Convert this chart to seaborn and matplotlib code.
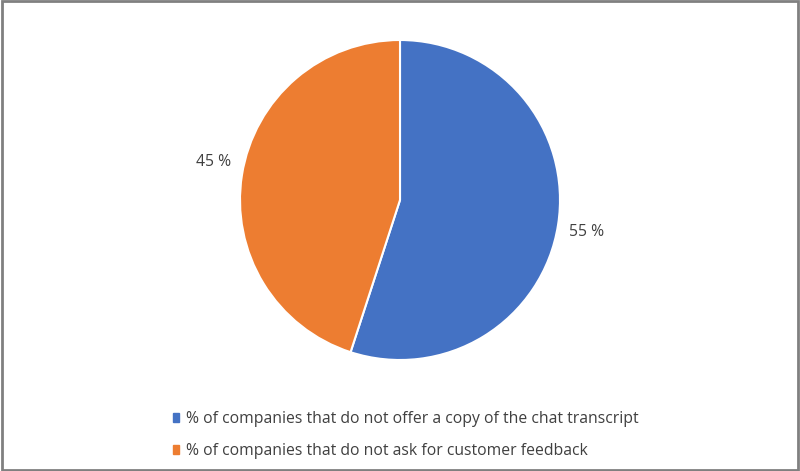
import matplotlib
matplotlib.use("Agg")
import matplotlib.pyplot as plt
import matplotlib.patches as mpatches
import seaborn as sns

# Data
labels = ["% of companies that do not offer a copy of the chat transcript",
          "% of companies that do not ask for customer feedback"]
values = [55, 45]
colors = ["#4472C4", "#ED7D31"]

sns.set_style("white")
plt.rcParams['font.family'] = ['Open Sans', 'DejaVu Sans']

fig = plt.figure(figsize=(8, 4.71), dpi=100)
ax = fig.add_axes([0.3, 111 / 471, 0.4, 320 / 471])

wedges, texts = ax.pie(values, colors=colors, startangle=90, counterclock=False,
                       labels=[f"{v} %" for v in values], labeldistance=1.07,
                       wedgeprops=dict(edgecolor="white", linewidth=1.5),
                       textprops=dict(color="#404040", fontsize=11.3))
# small nudge so labels sit like the original
x, y = texts[0].get_position()
texts[0].set_position((x, y - 0.03))
x, y = texts[1].get_position()
texts[1].set_position((x, y + 0.07))

ax.set_xlim(-1, 1)
ax.set_ylim(-1, 1)
ax.set_aspect("equal")

# Legend
handles = [mpatches.Patch(color=c, label=l) for c, l in zip(colors, labels)]
fig.legend(handles=handles, loc="upper left", bbox_to_anchor=(0.208, 0.14),
           frameon=False, fontsize=11.3, handlelength=0.42, handleheight=0.5,
           handletextpad=0.45, labelspacing=1.0, labelcolor="#404040",
           borderaxespad=0)

# Outer border
border = mpatches.Rectangle((0.002, 0.003), 0.996, 0.994, transform=fig.transFigure,
                            fill=False, edgecolor="#808080", linewidth=2)
fig.patches.append(border)

fig.savefig("out.png", dpi=100)
